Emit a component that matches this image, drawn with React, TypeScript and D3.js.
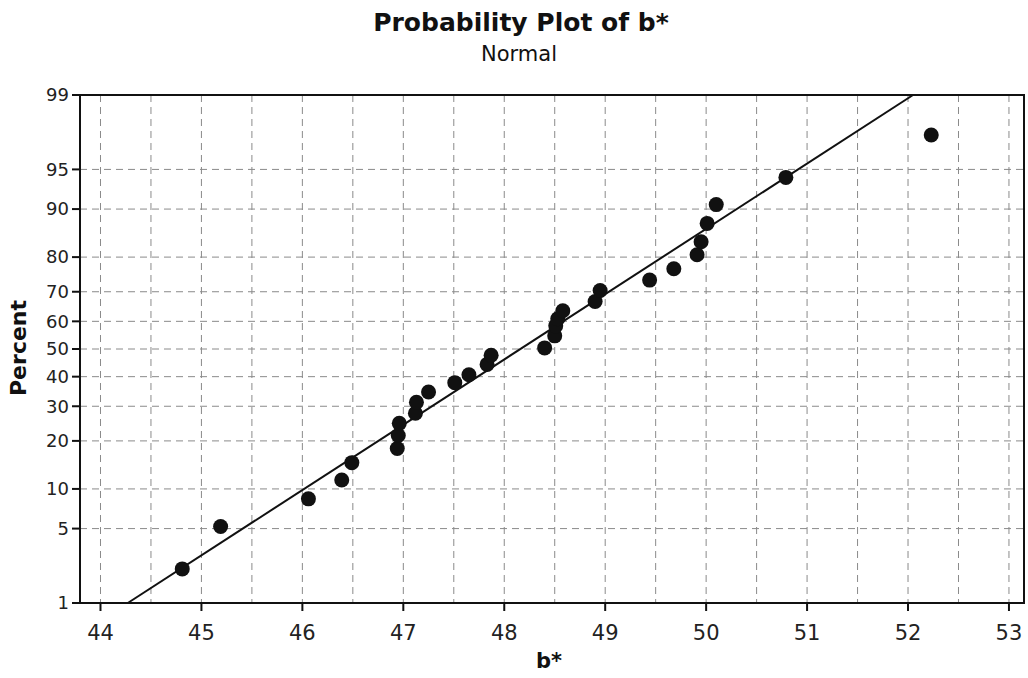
import React from "react";
import * as d3 from "d3";

// b* measurements (sorted) and their plotted percent positions
const bValues = [
  44.81, 45.19, 46.06, 46.39, 46.49, 46.94, 46.95, 46.96, 47.12, 47.13,
  47.25, 47.51, 47.65, 47.83, 47.87, 48.4, 48.5, 48.51, 48.53, 48.58,
  48.9, 48.95, 49.44, 49.68, 49.91, 49.95, 50.01, 50.1, 50.79, 52.23,
];
const percents = [
  2.2, 5.2, 8.5, 11.5, 14.9, 18.1, 21.4, 24.8, 27.8, 31.3,
  34.7, 37.9, 40.7, 44.4, 47.7, 50.4, 54.8, 58.4, 60.9, 63.7,
  66.8, 70.4, 73.6, 76.9, 80.6, 83.7, 87.5, 90.7, 94.2, 97.5,
];

// fitted normal line
const fitMean = 48.16;
const fitSd = 1.672;

const xTicks = [44, 45, 46, 47, 48, 49, 50, 51, 52, 53];
const xGrid = [44, 44.5, 45, 45.5, 46, 46.5, 47, 47.5, 48, 48.5, 49, 49.5, 50, 50.5, 51, 51.5, 52, 52.5, 53];
const yTicks = [1, 5, 10, 20, 30, 40, 50, 60, 70, 80, 90, 95, 99];
const yGrid = [5, 10, 20, 30, 40, 50, 60, 70, 80, 90, 95];

// inverse of the standard normal cdf (Acklam)
function qnorm(p: number) {
  const a = [-39.69683028665376, 220.9460984245205, -275.9285104469687, 138.357751867269, -30.66479806614716, 2.506628277459239];
  const b = [-54.47609879822406, 161.5858368580409, -155.6989798598866, 66.80131188771972, -13.28068155288572];
  const c = [-0.007784894002430293, -0.3223964580411365, -2.400758277161838, -2.549732539343734, 4.374664141464968, 2.938163982698783];
  const d = [0.007784695709041462, 0.3224671290700398, 2.445134137142996, 3.754408661907416];
  const pl = 0.02425;
  if (p < pl) {
    const q = Math.sqrt(-2 * Math.log(p));
    return (((((c[0] * q + c[1]) * q + c[2]) * q + c[3]) * q + c[4]) * q + c[5]) /
      ((((d[0] * q + d[1]) * q + d[2]) * q + d[3]) * q + 1);
  }
  if (p > 1 - pl) {
    const q = Math.sqrt(-2 * Math.log(1 - p));
    return -(((((c[0] * q + c[1]) * q + c[2]) * q + c[3]) * q + c[4]) * q + c[5]) /
      ((((d[0] * q + d[1]) * q + d[2]) * q + d[3]) * q + 1);
  }
  const q = p - 0.5;
  const r = q * q;
  return (((((a[0] * r + a[1]) * r + a[2]) * r + a[3]) * r + a[4]) * r + a[5]) * q /
    (((((b[0] * r + b[1]) * r + b[2]) * r + b[3]) * r + b[4]) * r + 1);
}

const W = 1028;
const H = 678;
const left = 80;
const right = 1024;
const top = 95;
const bottom = 603;
const font = "'DejaVu Sans', Verdana, sans-serif";

export default function App() {
  const x = d3.scaleLinear().domain([43.797, 53.149]).range([left, right]);
  const y = d3.scaleLinear().domain([qnorm(0.01), qnorm(0.99)]).range([bottom, top]);
  const py = (p: number) => y(qnorm(p / 100));

  const lineData: [number, number][] = [1, 99].map((p) => [fitMean + fitSd * qnorm(p / 100), p]);
  const line = d3
    .line<[number, number]>()
    .x((d) => x(d[0]))
    .y((d) => py(d[1]));

  return (
    <svg
      width={W}
      height={H}
      style={{ position: "absolute", left: 0, top: 0, background: "#fff" }}
      fontFamily={font}
    >
      <rect width={W} height={H} fill="#fff" />
      <text x={521} y={31} textAnchor="middle" fontSize={25} fontWeight="bold" fill="#111">
        Probability Plot of b*
      </text>
      <text x={519} y={61} textAnchor="middle" fontSize={21} fill="#111">
        Normal
      </text>

      {/* grid */}
      <g stroke="#8a8a8a" strokeWidth={1} strokeDasharray="7,5">
        {xGrid.map((v) => (
          <line key={"gx" + v} x1={x(v)} x2={x(v)} y1={top} y2={bottom} />
        ))}
        {yGrid.map((v) => (
          <line key={"gy" + v} x1={left} x2={right} y1={py(v)} y2={py(v)} />
        ))}
      </g>

      {/* fitted line */}
      <path d={line(lineData) || ""} fill="none" stroke="#111" strokeWidth={2} />

      {/* points */}
      <g fill="#111">
        {bValues.map((v, i) => (
          <circle key={i} cx={x(v)} cy={py(percents[i])} r={7.5} />
        ))}
      </g>

      {/* frame */}
      <rect x={left} y={top} width={right - left} height={bottom - top} fill="none" stroke="#111" strokeWidth={2} />

      {/* y axis */}
      <g>
        {yTicks.map((v) => (
          <g key={"yt" + v} transform={`translate(${left},${py(v)})`}>
            <line x1={-8} x2={0} stroke="#111" strokeWidth={2} />
            <text x={-11} dy="0.35em" textAnchor="end" fontSize={18} fill="#222">
              {v}
            </text>
          </g>
        ))}
      </g>

      {/* x axis */}
      <g>
        {xTicks.map((v) => (
          <g key={"xt" + v} transform={`translate(${x(v)},${bottom})`}>
            <line y1={0} y2={8} stroke="#111" strokeWidth={2} />
            <text y={37} textAnchor="middle" fontSize={21} fill="#222">
              {v}
            </text>
          </g>
        ))}
      </g>

      <text
        transform={`translate(26,348) rotate(-90)`}
        textAnchor="middle"
        fontSize={22}
        fontWeight="bold"
        fill="#111"
      >
        Percent
      </text>
      <text x={549} y={668} textAnchor="middle" fontSize={21} fontWeight="bold" fill="#111">
        b*
      </text>
    </svg>
  );
}
